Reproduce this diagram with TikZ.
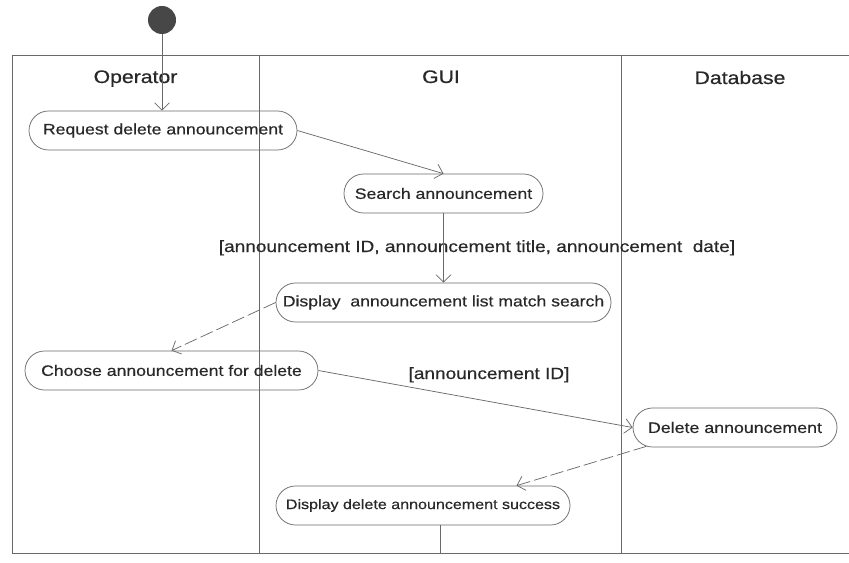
\documentclass[tikz,border=0pt]{standalone}
\usepackage{fontspec}
\setmainfont[FakeStretch=1.17,FakeBold=0.5]{Liberation Sans}
\usetikzlibrary{shapes.misc,arrows.meta}
\definecolor{ln}{RGB}{105,105,105}
\definecolor{tx}{RGB}{40,40,40}
\tikzset{
  act/.style={rounded rectangle, draw=ln, line width=0.55pt, text=tx, inner sep=0pt,
    minimum height=29.25pt, font=\fontsize{11.3pt}{13pt}\selectfont},
  lane/.style={text=tx, anchor=base, font=\fontsize{13.6pt}{16pt}\selectfont},
  guard/.style={text=tx, anchor=base, font=\fontsize{12.2pt}{14pt}\selectfont},
  frameline/.style={draw=ln, line width=0.55pt},
  flow/.style={draw=ln, line width=0.55pt, -{Straight Barb[length=5.5pt,width=11pt]}},
  dflow/.style={flow, dash pattern=on 10pt off 3pt},
}
\begin{document}
\begin{tikzpicture}[x=0.75pt,y=-0.75pt]
\useasboundingbox (0,0) rectangle (849,563);
% frame and swimlanes
\coordinate (tl) at (12,55);
\coordinate (tr) at (849,55);
\coordinate (bl) at (12,553);
\coordinate (br) at (849,553);
\coordinate (d1t) at (259,55);
\coordinate (d1b) at (259,553);
\coordinate (d2t) at (621,55);
\coordinate (d2b) at (621,553);
\draw[frameline] (tr) -- (tl) -- (bl) -- (br);
\draw[frameline] (d1t) -- (d1b);
\draw[frameline] (d2t) -- (d2b);
% lane titles
\node[lane] (lop) at (135.5,83) {Operator};
\node[lane] (lgui) at (441,83) {GUI};
\node[lane] (ldb) at (740,84) {Database};
% initial node
\node[circle, fill=black!72, inner sep=0pt, minimum size=21pt] (init) at (162,20) {};
% activities
\node[act, minimum width=201pt] (req) at (163,130.5) {Request delete announcement};
\node[act, minimum width=149.25pt] (search) at (443.5,193.5) {Search announcement};
\node[act, minimum width=251.25pt] (disp) at (443.5,302.5) {Display\ \ announcement list match search};
\node[act, minimum width=219.75pt] (choose) at (171.5,370.5) {Choose announcement for delete};
\node[act, minimum width=153pt, font=\fontsize{11.4pt}{13pt}\selectfont] (del) at (735,427.5) {Delete announcement};
\node[act, minimum width=220.5pt, font=\fontsize{10.3pt}{12pt}\selectfont] (succ) at (423,505.5) {Display delete announcement success};
% guards
\node[guard] (g1) at (477,252) {[announcement ID, announcement title, announcement\ \ date]};
\node[guard] (g2) at (489,379) {[announcement ID]};
% flows
\draw[flow] (init) -- (init |- req.north);
\draw[flow] (req.east) -- (search.north);
\draw[flow] (search.south) -- (disp.north);
\draw[dflow] (disp.west) -- (choose.north);
\draw[flow] (choose.east) -- (del.west);
\draw[dflow] (del.192) -- (succ.12);
\draw[frameline] (succ.-49) -- (succ.-49 |- bl);
\end{tikzpicture}
\end{document}
